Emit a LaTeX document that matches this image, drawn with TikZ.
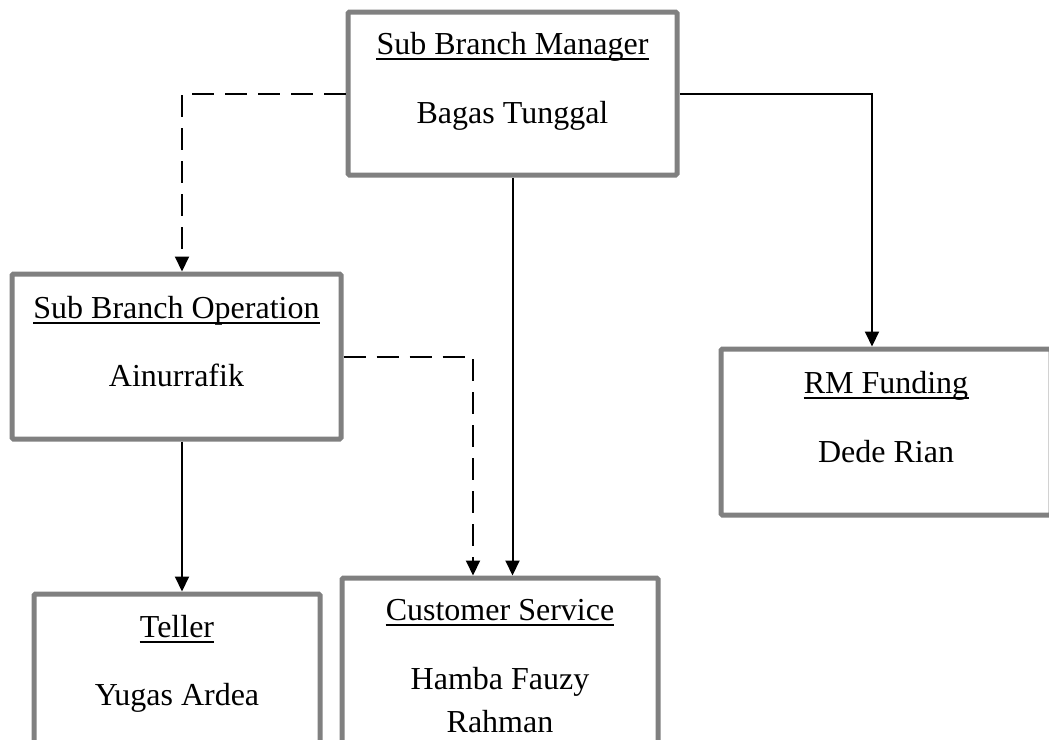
\documentclass[tikz,border=0pt]{standalone}
\usepackage{fontspec}
\setmainfont{Liberation Serif}
\usetikzlibrary{arrows.meta,calc}
\definecolor{boxgray}{RGB}{128,128,128}
\tikzset{
  orgbox/.style={rectangle, draw=boxgray, line width=3.75pt, rounded corners=1.1pt, inner sep=0pt},
  txt/.style={anchor=base, inner sep=0pt, font=\fontsize{24}{28}\selectfont},
  link/.style={line width=1.5pt, draw=black, -{Triangle[length=11.25pt,width=10.5pt]}},
  dlink/.style={link, dash pattern=on 16.5pt off 8.25pt},
  uline/.style={line width=1.5pt, draw=black}
}
\begin{document}
\begin{tikzpicture}[x=0.75pt,y=-0.75pt]
\useasboundingbox (0,0) rectangle (1049,739);
\clip (0,0) rectangle (1049,739);

% boxes
\node[orgbox, minimum width=246.75pt, minimum height=122.25pt] (mgr) at (512.5,93.5) {};
\node[orgbox, minimum width=246.75pt, minimum height=123.75pt] (ops) at (176.5,356.5) {};
\node[orgbox, minimum width=247.5pt, minimum height=124.5pt] (rm) at (886,432) {};
\node[orgbox, minimum width=214.5pt, minimum height=124.5pt] (teller) at (177,677) {};
\node[orgbox, minimum width=237pt, minimum height=125.25pt] (cs) at (500,661.5) {};

% texts
\node[txt] (mgrT) at (512.5,54) {Sub Branch Manager};
\node[txt] (mgrN) at (512.5,123) {Bagas Tunggal};
\node[txt] (opsT) at (176.5,318) {Sub Branch Operation};
\node[txt] (opsN) at (176.5,386.5) {Ainurrafik};
\node[txt] (rmT) at (886,393) {RM Funding};
\node[txt] (rmN) at (886,462.5) {Dede Rian};
\node[txt] (telT) at (177,637.5) {Teller};
\node[txt] (telN) at (177,705.5) {Yugas Ardea};
\node[txt] (csT) at (500,620.5) {Customer Service};
\node[txt] (csN1) at (500,689.5) {Hamba Fauzy};
\node[txt] (csN2) at (500,732) {Rahman};

% underlines
\foreach \t in {mgrT,opsT,rmT,telT,csT}{
  \draw[uline] ($(\t.base west)+(0,4.5)$) -- ($(\t.base east)+(0,4.5)$);
}

% connectors
\draw[dlink] (mgr.west) -| ($(ops.north)+(5.5,0)$);
\draw[link] (mgr.east) -| ($(rm.north)+(-14,0)$);
\draw[link] (mgr.south) -- (mgr.south |- cs.north);
\draw[dlink] (ops.east) -| ($(cs.north)+(-27,0)$);
\draw[link] ($(ops.south)+(5.5,0)$) -- ($(teller.north)+(5,0)$);
\end{tikzpicture}
\end{document}
